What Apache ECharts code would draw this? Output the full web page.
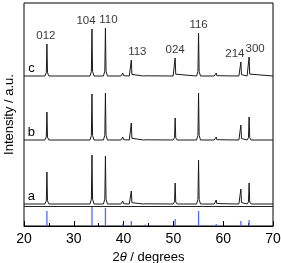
<!DOCTYPE html>
<html><head><meta charset="utf-8">
<script src="https://cdn.jsdelivr.net/npm/echarts@6/dist/echarts.min.js"></script>
<style>html,body{margin:0;padding:0;background:#fff}#c{width:281px;height:263px}</style>
</head><body><div id="c"></div>
<script>
// Peak positions (2θ, degrees)
const twoTheta = [24.6, 33.65, 36.35, 39.85, 41.55, 44.35, 50.35, 55.05, 58.6, 63.55, 65.2];
// Miller indices for labelled peaks
const hkl = ['012', '104', '110', '', '113', '', '024', '116', '', '214', '300'];
// Peak intensities (a.u.) for each sample
const sampleA = [32, 49, 48, 3, 13, 2, 21, 44, 4, 15, 21];
const sampleB = [28, 46, 47, 3, 17, 2, 22, 47, 3, 15, 23];
const sampleC = [32, 47, 48, 3, 16, 2, 18, 43, 3, 14, 19];
// Reference pattern stick intensities
const refPattern = [15, 20, 18, 2, 5, 1.5, 7, 15, 2, 5, 6];
const sampleNames = ['a', 'b', 'c'];
const xTicks = [20, 30, 40, 50, 60, 70];

// vertical offsets for stacking (layout)
const offsets = {a: 22, b: 86, c: 150};
const FONT = 'Liberation Sans, Arial, sans-serif';

function profile(h, off) {
  const pts = [[xTicks[0], off]];
  twoTheta.forEach((x, i) => {
    pts.push([x - 0.4, off], [x - 0.12, off + h[i] * 0.1], [x, off + h[i]],
             [x + 0.12, off + h[i] * 0.1], [x + 0.4, off]);
  });
  pts.push([xTicks[xTicks.length - 1], off]);
  return pts;
}

const labelDx = [-1, -6, 3, 0, 6, 0, 0, 0, 0, -6, 6];
const curves = {a: sampleA, b: sampleB, c: sampleC};

const series = sampleNames.map(n => ({
  type: 'line', data: profile(curves[n], offsets[n]), showSymbol: false,
  lineStyle: {color: '#1a1a1a', width: 1}, silent: true,
  markPoint: {
    symbolSize: 0,
    data: [{coord: [21.5, offsets[n]], value: n}],
    label: {show: true, position: 'top', distance: 1, formatter: n,
            color: '#000', fontSize: 13, fontFamily: FONT}
  }
}));

series.push({
  type: 'bar', data: twoTheta.map((x, i) => [x, refPattern[i]]), barWidth: 1.3,
  itemStyle: {color: '#4d6bff'}, silent: true,
  markLine: {symbol: 'none', silent: true, label: {show: false},
    lineStyle: {color: '#222', width: 1, type: 'solid'}, data: [{yAxis: 19.5}]}
});

series.push({
  type: 'scatter', symbolSize: 0, silent: true,
  data: twoTheta.map((x, i) => ({
    value: [x, offsets.c + sampleC[i]],
    label: {show: hkl[i] !== '', formatter: hkl[i], position: 'top', distance: 2,
            offset: [labelDx[i], 0], color: '#000', fontSize: 11.5, fontFamily: FONT}
  }))
});

const chart = echarts.init(document.getElementById('c'), null, {renderer: 'canvas'});
chart.setOption({
  animation: false,
  grid: {left: 24, right: 8, top: 3, bottom: 37, show: true, borderColor: '#000', borderWidth: 1,
         containLabel: false, outerBoundsMode: 'none'},
  xAxis: {
    type: 'value', min: xTicks[0], max: xTicks[xTicks.length - 1], interval: 10,
    axisLine: {show: true, lineStyle: {color: '#000', width: 1}},
    axisTick: {show: true, inside: true, length: 5, lineStyle: {color: '#000'}},
    minorTick: {show: true, splitNumber: 2, length: 3, lineStyle: {color: '#000'}},
    splitLine: {show: false},
    axisLabel: {color: '#000', fontSize: 14, fontFamily: FONT, margin: 6},
    name: '2{i|θ} / degrees', nameLocation: 'middle', nameGap: 22,
    nameTextStyle: {color: '#000', fontSize: 13, fontFamily: FONT,
      rich: {i: {fontStyle: 'italic', fontSize: 13, fontFamily: FONT, color: '#000'}}}
  },
  yAxis: {
    type: 'value', min: 0, max: 223,
    axisLine: {show: false}, axisTick: {show: false}, axisLabel: {show: false},
    splitLine: {show: false},
    name: 'Intensity / a.u.', nameLocation: 'middle', nameGap: 8,
    nameTextStyle: {color: '#000', fontSize: 13, fontFamily: FONT}
  },
  series: series
});
</script></body></html>
